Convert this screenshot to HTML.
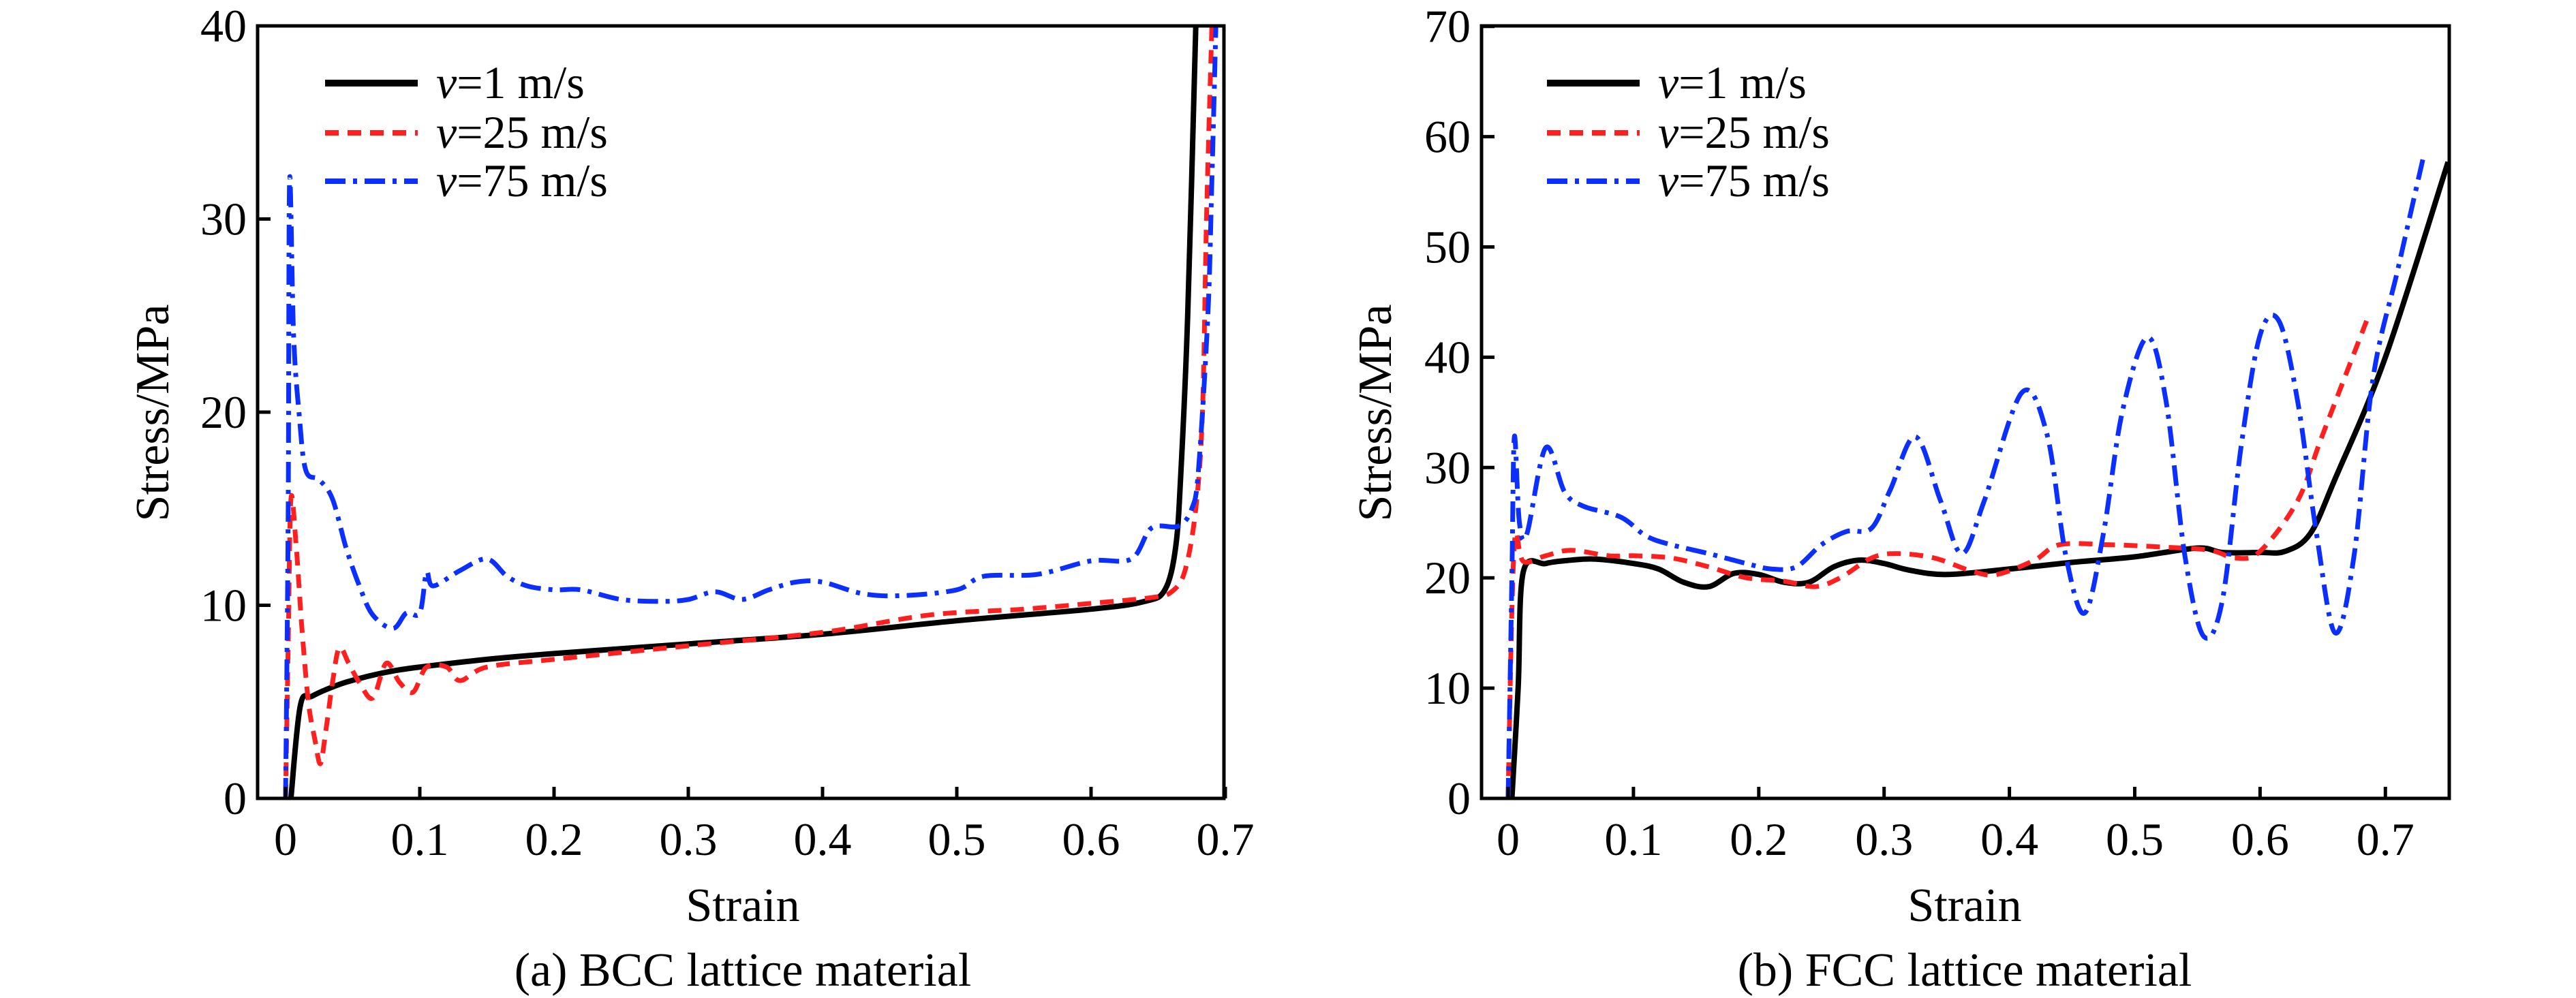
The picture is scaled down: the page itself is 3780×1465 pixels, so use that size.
<!DOCTYPE html>
<html><head><meta charset="utf-8"><style>
html,body{margin:0;padding:0;background:#fff}
svg{display:block;font-family:"Liberation Serif","DejaVu Serif",serif}
svg text{font-family:"Liberation Serif","DejaVu Serif",serif;fill:#000}
</style></head><body>
<svg id="c" width="3780" height="1465" viewBox="0 0 3780 1465"></svg>
<script>
// ----- BCC panel data -----
const bccX1=[0.004,0.011,0.02,0.04,0.06,0.08,0.1,0.15,0.2,0.3,0.4,0.5,0.6,0.64,0.655,0.663,0.667,0.672,0.678];
const bccY1=[0,4.8,5.3,5.9,6.3,6.6,6.8,7.2,7.5,8.0,8.5,9.2,9.8,10.2,10.8,13,17,25,40];
const bccX25=[0,0.002,0.004,0.008,0.012,0.017,0.022,0.026,0.03,0.035,0.04,0.047,0.055,0.065,0.075,0.085,0.095,0.105,0.12,0.13,0.15,0.2,0.3,0.4,0.48,0.55,0.6,0.645,0.66,0.67,0.678,0.683,0.686,0.69];
const bccY25=[0,8,15.5,13,9,5,3,1.8,3.5,6,7.8,7,6,5.2,7,6,5.5,6.8,6.8,6.1,6.8,7.2,7.9,8.6,9.5,9.8,10.1,10.4,10.7,11.8,15,20,30,40];
const bccX75=[0,0.002,0.003,0.006,0.01,0.015,0.025,0.035,0.045,0.055,0.065,0.08,0.09,0.1,0.105,0.11,0.13,0.15,0.165,0.18,0.2,0.22,0.25,0.28,0.3,0.32,0.34,0.36,0.38,0.4,0.43,0.46,0.5,0.52,0.56,0.6,0.63,0.645,0.665,0.675,0.68,0.687,0.69,0.693];
const bccY75=[0,15,32,24,20,17,16.5,15.5,13,11,9.5,8.8,9.6,9.6,11.7,11,11.8,12.4,11.5,11,10.8,10.8,10.3,10.2,10.3,10.7,10.3,10.8,11.2,11.2,10.6,10.5,10.8,11.5,11.6,12.3,12.4,14,14.1,15,17,25,32,40];
const bccXTicks=["0","0.1","0.2","0.3","0.4","0.5","0.6","0.7"];
const bccYTicks=["0","10","20","30","40"];
// ----- FCC panel data -----
const fccX1=[0.003,0.008,0.012,0.03,0.05,0.07,0.1,0.12,0.14,0.16,0.18,0.2,0.22,0.24,0.26,0.28,0.3,0.32,0.35,0.4,0.45,0.5,0.55,0.57,0.6,0.62,0.64,0.66,0.7,0.75];
const fccY1=[0,10,20.5,21.3,21.6,21.7,21.3,20.8,19.6,19.2,20.4,20.3,19.6,19.6,21,21.6,21.3,20.7,20.3,20.8,21.4,21.9,22.7,22.3,22.3,22.4,24,29,40,57.7];
const fccX25=[0,0.003,0.006,0.012,0.03,0.05,0.08,0.1,0.13,0.16,0.19,0.22,0.245,0.265,0.29,0.31,0.34,0.37,0.39,0.42,0.44,0.48,0.52,0.56,0.58,0.6,0.63,0.65,0.685];
const fccY25=[0,17,24,21.5,22,22.5,22,22,21.8,21,20,19.7,19.2,20,21.8,22.2,21.8,20.6,20.3,21.6,23,23,22.8,22.5,21.8,22.4,27,33,43.3];
const fccX75=[0,0.003,0.005,0.009,0.015,0.03,0.045,0.06,0.09,0.11,0.13,0.16,0.19,0.21,0.23,0.25,0.27,0.29,0.305,0.325,0.345,0.362,0.38,0.41,0.43,0.445,0.46,0.475,0.49,0.51,0.525,0.54,0.555,0.57,0.585,0.6,0.615,0.63,0.645,0.66,0.675,0.69,0.71,0.73];
const fccY75=[0,20,32.8,25,24,31.8,27.8,26.5,25.5,23.8,23,22.2,21.3,20.8,21,23,24.2,24.5,28,32.8,27,22.2,27,36.8,33,22,16.8,24,35,41.8,36,22,14.7,18,32,42,43.3,36,24,15,22,38,48,58];
const fccXTicks=["0","0.1","0.2","0.3","0.4","0.5","0.6","0.7"];
const fccYTicks=["0","10","20","30","40","50","60","70"];

const NS="http://www.w3.org/2000/svg";
const svg=document.getElementById('c');
const FF='"Liberation Serif", "DejaVu Serif", serif';
function mk(tag,attrs,parent){const e=document.createElementNS(NS,tag);for(const k in attrs)e.setAttribute(k,attrs[k]);if(tag==='text'){e.setAttribute('font-family',FF);e.style.fontFamily=FF;}(parent||svg).appendChild(e);return e;}

function smoothPath(P){
  let d='M'+P[0][0].toFixed(1)+' '+P[0][1].toFixed(1);
  for(let i=0;i<P.length-1;i++){
    const p0=P[Math.max(i-1,0)],p1=P[i],p2=P[i+1],p3=P[Math.min(i+2,P.length-1)];
    const t=1/6;
    const c1=[p1[0]+(p2[0]-p0[0])*t,p1[1]+(p2[1]-p0[1])*t];
    const c2=[p2[0]-(p3[0]-p1[0])*t,p2[1]-(p3[1]-p1[1])*t];
    d+=' C'+c1[0].toFixed(1)+' '+c1[1].toFixed(1)+' '+c2[0].toFixed(1)+' '+c2[1].toFixed(1)+' '+p2[0].toFixed(1)+' '+p2[1].toFixed(1);
  }
  return d;
}

function panel(o){
  const g=mk('g',{});
  
  
  const sx=v=>o.x0+v*o.xs, sy=v=>o.yb-v*o.ys;
  const cid=o.name+'-clip';
  const cp=mk('clipPath',{id:cid},g);
  mk('rect',{x:o.L,y:o.T,width:o.R-o.L,height:o.yb-o.T},cp);
  const series=[
    [o.x1,o.y1,'#000','none','series-v1',8],
    [o.x25,o.y25,'#ff1f1f','20 13','series-v25',7],
    [o.x75,o.y75,'#0a2fff','30 11 6 11','series-v75',7]];
  series.forEach(s=>{
    const pts=s[0].map((x,i)=>[sx(x),sy(s[1][i])]);
    const p=mk('path',{d:smoothPath(pts),fill:'none',stroke:s[2],'stroke-width':s[5],'stroke-dasharray':s[3],'stroke-linejoin':'round','clip-path':'url(#'+cid+')'},g);
    
    
  });
  const box=mk('rect',{x:o.L,y:o.T,width:o.R-o.L,height:o.yb-o.T,fill:'none',stroke:'#000','stroke-width':5},g);
  
  
  o.xt.forEach(t=>{
    const X=sx(parseFloat(t));
    mk('line',{x1:X,x2:X,y1:o.yb,y2:o.yb-17,stroke:'#000','stroke-width':5},g);
    const tx=mk('text',{x:X,y:o.yb+83,'font-size':68,'text-anchor':'middle'},g);
    tx.textContent=t;
    
    
  });
  o.yt.forEach(t=>{
    const Y=sy(parseFloat(t));
    mk('line',{x1:o.L,x2:o.L+19,y1:Y,y2:Y,stroke:'#000','stroke-width':5},g);
    const tx=mk('text',{x:o.L-16,y:Y+23,'font-size':68,'text-anchor':'end'},g);
    tx.textContent=t;
    
    
  });
  const yl=mk('text',{x:0,y:0,'font-size':70,'text-anchor':'middle',transform:'translate('+(o.ytx+24)+' 606) rotate(-90)'},g);
  yl.textContent='Stress/MPa';
  
  
  const xl=mk('text',{x:o.xtc,y:1352,'font-size':70,'text-anchor':'middle'},g);
  xl.textContent='Strain';
  
  
  const cap=mk('text',{x:o.xtc,y:1447,'font-size':70,'text-anchor':'middle'},g);
  cap.textContent=o.caption;
  
  
  const labels=['=1 m/s','=25 m/s','=75 m/s'];
  const lg=mk('g',{},g);
  
  
  [122,195,266].forEach((Y,i)=>{
    const s=series[i];
    const ln=mk('line',{x1:o.lx,x2:o.lx+136,y1:Y,y2:Y,stroke:s[2],'stroke-width':i?8:10,'stroke-dasharray':i==0?'none':(i==1?'20 13':'30 11 6 11')},lg);
    
    
    const t=mk('text',{x:o.lx+163,y:Y+22,'font-size':68},lg);
    const v=mk('tspan',{'font-style':'italic'},t);v.textContent='v';
    const r=mk('tspan',{},t);r.textContent=labels[i];
    
    
  });
}
panel({name:'bcc-chart',L:378,R:1796,T:38,yb:1172,x0:419,xs:1970,ys:28.35,
  x1:bccX1,y1:bccY1,x25:bccX25,y25:bccY25,x75:bccX75,y75:bccY75,xt:bccXTicks,yt:bccYTicks,
  ytx:223,xtc:1090,lx:477,caption:'(a) BCC lattice material'});
panel({name:'fcc-chart',L:2174,R:3594,T:38,yb:1172,x0:2213,xs:1839,ys:16.19,
  x1:fccX1,y1:fccY1,x25:fccX25,y25:fccY25,x75:fccX75,y75:fccY75,xt:fccXTicks,yt:fccYTicks,
  ytx:2017,xtc:2883,lx:2270,caption:'(b) FCC lattice material'});
</script>
</body></html>
